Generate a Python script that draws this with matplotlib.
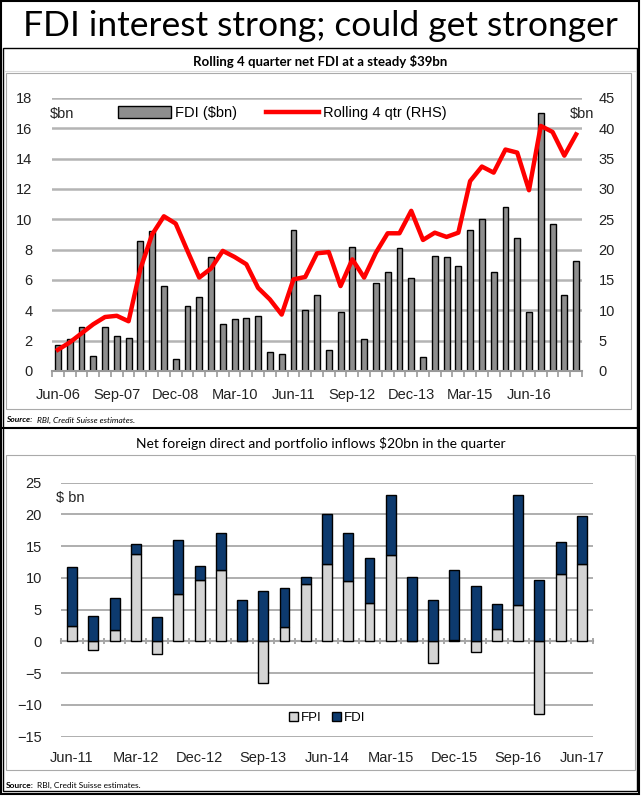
import numpy as np
import matplotlib
matplotlib.use('Agg')
import matplotlib.pyplot as plt
from matplotlib.patches import Rectangle
from matplotlib.lines import Line2D

# top chart: quarterly FDI and rolling 4 quarter sum, Jun-06 .. Jun-17
fdi_q = [1.7, 2.1, 2.9, 1.0, 2.9, 2.3, 2.2, 8.6, 9.2, 5.6,
         0.8, 4.3, 4.9, 7.5, 3.1, 3.45, 3.5, 3.6, 1.25, 1.15,
         9.3, 4.0, 5.0, 1.4, 3.9, 8.2, 2.1, 5.8, 6.5, 8.1,
         6.1, 0.95, 7.6, 7.5, 6.9, 9.3, 10.0, 6.5, 10.8, 8.8,
         3.9, 17.0, 9.7, 5.0, 7.25]
rolling = [3.5, 4.7, 6.2, 7.7, 8.9, 9.1, 8.2, 16.8, 22.5, 25.5,
           24.3, 19.8, 15.4, 16.9, 19.8, 18.8, 17.6, 13.7, 11.8, 9.3,
           15.1, 15.5, 19.4, 19.6, 14.0, 18.4, 15.4, 19.5, 22.7, 22.7,
           26.4, 21.6, 22.8, 22.1, 22.8, 31.3, 33.7, 32.7, 36.5, 36.0,
           29.8, 40.4, 39.4, 35.5, 39.0]
top_labels = ['Jun-06', 'Sep-07', 'Dec-08', 'Mar-10', 'Jun-11',
              'Sep-12', 'Dec-13', 'Mar-15', 'Jun-16']

# bottom chart: FPI and FDI per quarter, Jun-11 .. Jun-17
fpi = [2.4, -1.3, 1.75, 13.7, -1.9, 7.5, 9.6, 11.2, 0.1, -6.6,
       2.3, 9.1, 12.2, 9.5, 6.1, 13.6, 0.0, -3.4, 0.3, -1.6,
       1.9, 5.8, -11.4, 10.7, 12.2]
fdi = [9.4, 4.0, 5.1, 1.6, 3.8, 8.4, 2.3, 5.9, 6.4, 8.0,
       6.1, 1.0, 7.9, 7.6, 7.0, 9.4, 10.1, 6.5, 10.9, 8.7,
       4.0, 17.3, 9.7, 5.0, 7.5]
bottom_labels = ['Jun-11', 'Mar-12', 'Dec-12', 'Sep-13', 'Jun-14',
                 'Mar-15', 'Dec-15', 'Sep-16', 'Jun-17']

W, H = 641, 796
fig = plt.figure(figsize=(W / 100, H / 100), dpi=100)
fig.patch.set_facecolor('white')


def box(x0, y0, x1, y1):
    # pixel box (top-left origin) -> figure fraction rect
    return [x0 / W, 1 - y1 / H, (x1 - x0) / W, (y1 - y0) / H]


def rect(x0, y0, x1, y1, color='black', lw=1.0):
    fig.add_artist(Rectangle((x0 / W, 1 - y1 / H), (x1 - x0) / W, (y1 - y0) / H,
                             transform=fig.transFigure, fill=False,
                             edgecolor=color, linewidth=lw))


def hline(y, x0, x1, color='black', lw=1.0):
    fig.add_artist(Line2D([x0 / W, x1 / W], [1 - y / H, 1 - y / H],
                          transform=fig.transFigure, color=color, linewidth=lw))


# frames
rect(1, 1, 639, 794, lw=1.5)
rect(3, 48, 637, 791, lw=1.0)
hline(428, 3, 637, lw=1.5)
hline(71, 5, 635, color='#dddddd', lw=0.8)
rect(6, 73, 631, 409, color='#aaaaaa', lw=0.8)
rect(6, 455, 635, 770, color='#aaaaaa', lw=0.8)

fig.text(320 / W, 1 - 26 / H, 'FDI interest strong; could get stronger',
         ha='center', va='center', fontsize=25.5, family='Lato')
fig.text(320 / W, 1 - 62 / H, 'Rolling 4 quarter net FDI at a steady $39bn',
         ha='center', va='center', fontsize=9.5, family='Lato', weight='bold')
fig.text(321 / W, 1 - 444 / H, 'Net foreign direct and portfolio inflows $20bn in the quarter',
         ha='center', va='center', fontsize=10, family='Lato')
fig.text(6 / W, 1 - 420 / H, 'Source:', ha='left', va='center', fontsize=6,
         weight='bold', style='italic', family='Lato')
fig.text(37 / W, 1 - 420 / H, 'RBI, Credit Suisse estimates.',
         ha='left', va='center', fontsize=6, style='italic', family='Lato')
fig.text(6 / W, 1 - 785 / H, 'Source:', ha='left', va='center', fontsize=6,
         weight='bold', family='Lato')
fig.text(37 / W, 1 - 785 / H, 'RBI, Credit Suisse estimates.', ha='left', va='center',
         fontsize=6, family='Lato')

tick_font = dict(family='Liberation Sans', size=10.5)

# ---------------- top chart ----------------
x = np.arange(len(fdi_q))
ax1 = fig.add_axes(box(52, 98, 582, 371))
ax1.set_xlim(-0.5, len(x) - 0.5)
ax1.set_ylim(0, 18)
ax1.set_yticks(np.arange(0, 19, 2))
ax1.yaxis.grid(True, color='#b4b4b4', linewidth=1.8)
ax1.set_axisbelow(True)
bars = ax1.bar(x, fdi_q, width=0.5, color='#8e8e8e', edgecolor='black', linewidth=1.0,
               label='FDI ($bn)', zorder=2)
ax1.set_xticks(x[::5])
ax1.set_xticklabels(top_labels)
ax1.set_xticks(np.arange(-0.5, len(x), 1), minor=True)
ax1.tick_params(axis='x', which='major', length=0, pad=12)
ax1.tick_params(axis='x', which='minor', length=4, color='#999999', width=1.2)
ax1.tick_params(axis='y', length=0, pad=14)
for s in ['top', 'left', 'right']:
    ax1.spines[s].set_visible(False)
ax1.spines['bottom'].set_color('#999999')
ax1.spines['bottom'].set_linewidth(1.5)
for lab in ax1.get_xticklabels() + ax1.get_yticklabels():
    lab.set_fontproperties(tick_font)
    lab.set_color('#222222')

ax2 = ax1.twinx()
ax2.set_ylim(0, 45)
ax2.set_yticks(np.arange(0, 46, 5))
line, = ax2.plot(x, rolling, color='#ff0000', linewidth=3.2, label='Rolling 4 qtr (RHS)',
                 zorder=3)
ax2.tick_params(axis='y', length=0, pad=12)
for s in ['top', 'left', 'right', 'bottom']:
    ax2.spines[s].set_visible(False)
for lab in ax2.get_yticklabels():
    lab.set_fontproperties(tick_font)
    lab.set_color('#222222')

ax1.text(-0.005, 0.94, '$bn', transform=ax1.transAxes, ha='left', va='center',
         fontproperties=tick_font, color='#222222')
ax2.text(1.0, 0.94, '$bn', transform=ax2.transAxes, ha='center', va='center',
         fontproperties=tick_font, color='#222222')
leg = ax1.legend(handles=[bars, line], ncol=2, frameon=False, loc='center left',
                 bbox_to_anchor=(0.1, 0.945), handlelength=3.6, handleheight=0.8,
                 handletextpad=0.3, columnspacing=2.0, prop=tick_font)

# ---------------- bottom chart ----------------
xb = np.arange(len(fpi))
fpi_a = np.array(fpi)
fdi_a = np.array(fdi)
fdi_base = np.where(fpi_a > 0, fpi_a, 0)
ax3 = fig.add_axes(box(61.4, 482.7, 592.6, 736.7))
ax3.set_xlim(-0.5, len(xb) - 0.5)
ax3.set_ylim(-15, 25)
ax3.set_yticks(np.arange(-15, 26, 5))
ax3.yaxis.grid(True, color='#a8a8a8', linewidth=1.3)
ax3.set_axisbelow(True)
b_fpi = ax3.bar(xb, fpi, width=0.47, color='#d4d4d4', edgecolor='black', linewidth=1.0,
                label='FPI', zorder=2)
b_fdi = ax3.bar(xb, fdi, bottom=fdi_base, width=0.47, color='#0d3a6e', edgecolor='black',
                linewidth=1.0, label='FDI', zorder=2)
ax3.set_xticks(xb[::3])
ax3.set_xticklabels(bottom_labels)
ax3.tick_params(axis='x', length=0, pad=10)
ax3.tick_params(axis='y', length=0, pad=14)
for s in ['top', 'left', 'right', 'bottom']:
    ax3.spines[s].set_visible(False)
for lab in ax3.get_xticklabels() + ax3.get_yticklabels():
    lab.set_fontproperties(tick_font)
    lab.set_color('#222222')

zero_ax = ax3.secondary_xaxis(15 / 40)
zero_ax.set_xticks(np.arange(-0.5, len(xb), 1))
zero_ax.tick_params(axis='x', length=4, direction='inout', color='#999999', width=1.2,
                    labelbottom=False, labeltop=False)
zero_ax.spines['bottom'].set_color('#999999')
zero_ax.spines['bottom'].set_linewidth(1.5)

ax3.text(-0.01, 0.94, '$ bn', transform=ax3.transAxes, ha='left', va='center',
         fontproperties=tick_font, color='#222222')
ax3.legend(handles=[b_fpi, b_fdi], ncol=2, frameon=False, loc='center',
           bbox_to_anchor=(0.5, 0.074), handlelength=0.7, handleheight=0.7,
           handletextpad=0.2, columnspacing=0.8, prop=dict(family='Liberation Sans', size=9.5))

fig.savefig('out.png', dpi=100)
